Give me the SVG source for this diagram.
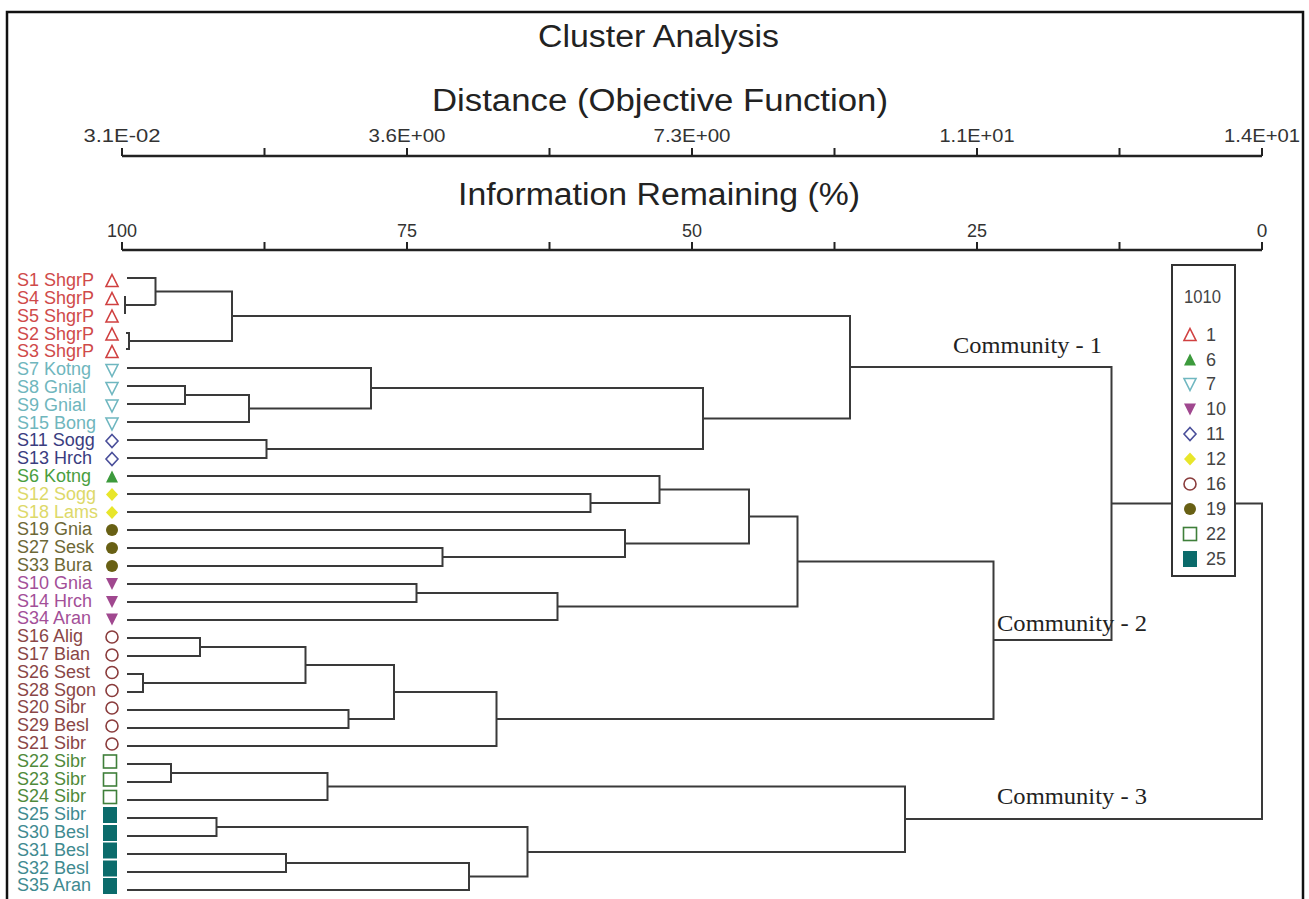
<svg xmlns="http://www.w3.org/2000/svg" xmlns:xlink="http://www.w3.org/1999/xlink" width="1309" height="899" viewBox="0 0 1309 899">
<style>
.frame{fill:#fff;stroke:#111;stroke-width:2.5}
.ttl{font-family:"Liberation Sans",Arial,sans-serif;font-size:31px;fill:#222}
.ax{font-family:"Liberation Sans",Arial,sans-serif;font-size:19px;fill:#333;text-anchor:middle}
.axl{stroke:#222;stroke-width:2.5;fill:none}
.tk{stroke:#222;stroke-width:2;fill:none}
.lbl{font-family:"Liberation Sans",Arial,sans-serif;font-size:18px}
.br{fill:none;stroke:#3a3a3a;stroke-width:2}
.com{font-family:"Liberation Serif","Times New Roman",serif;font-size:24px;fill:#222}
.lg{font-family:"Liberation Sans",Arial,sans-serif;font-size:18px;fill:#444}
.c1{fill:#cf4a4a}.c7{fill:#6fb6bd}.c11{fill:#3a3d80}.c6{fill:#4a9e40}.c12{fill:#ddd96a}.c19{fill:#6d6836}.c10{fill:#a34f98}.c16{fill:#8a4646}.c22{fill:#4f8a3a}.c25{fill:#3f8a90}
.s1{fill:#fff;stroke:#d04040;stroke-width:1.6}
.s6{fill:#3c9a3c}
.s7{fill:#fff;stroke:#6fb7c0;stroke-width:1.6}
.s10{fill:#a0488f}
.s11{fill:#fff;stroke:#4a4f9a;stroke-width:1.6}
.s12{fill:#e8e62a}
.s16{fill:#fff;stroke:#8a3c3c;stroke-width:1.6}
.s19{fill:#686014}
.s22{fill:#fff;stroke:#3f7f3a;stroke-width:1.6}
.s25{fill:#0b6b6b}
</style>
<defs>
<path id="triUp" d="M0,-6.5 L6,5.5 L-6,5.5 Z"/>
<path id="triDn" d="M0,6.5 L6,-5.5 L-6,-5.5 Z"/>
<path id="dia" d="M0,-6.5 L6,0 L0,6.5 L-6,0 Z"/>
<circle id="cir" r="6"/>
<rect id="sqO" x="-6.5" y="-6.5" width="13" height="13"/>
<rect id="sqF" x="-7" y="-8" width="14" height="16"/>
</defs>
<rect class="frame" x="7" y="12" width="1296" height="900"/>

<g id="titles">
<text class="ttl" x="538" y="47" textLength="241" lengthAdjust="spacingAndGlyphs">Cluster Analysis</text>
<text class="ttl" x="432" y="111" textLength="456" lengthAdjust="spacingAndGlyphs">Distance (Objective Function)</text>
<text class="ttl" x="458" y="205" textLength="402" lengthAdjust="spacingAndGlyphs">Information Remaining (%)</text>
</g>

<g id="axis-distance">
<text class="ax" x="122" y="142" textLength="77" lengthAdjust="spacingAndGlyphs">3.1E-02</text>
<text class="ax" x="407" y="142" textLength="77" lengthAdjust="spacingAndGlyphs">3.6E+00</text>
<text class="ax" x="692" y="142" textLength="77" lengthAdjust="spacingAndGlyphs">7.3E+00</text>
<text class="ax" x="977" y="142" textLength="75" lengthAdjust="spacingAndGlyphs">1.1E+01</text>
<text class="ax" x="1262" y="142" textLength="76" lengthAdjust="spacingAndGlyphs">1.4E+01</text>
<path class="axl" d="M122,156 H1262"/>
<path class="tk" d="M122,148V156 M264.5,148V156 M407,148V156 M549.5,148V156 M692,148V156 M834.5,148V156 M977,148V156 M1119.5,148V156 M1262,148V156"/>
</g>
<g id="axis-info">
<text class="ax" x="122" y="237" textLength="30" lengthAdjust="spacingAndGlyphs">100</text>
<text class="ax" x="407" y="237" textLength="20" lengthAdjust="spacingAndGlyphs">75</text>
<text class="ax" x="692" y="237" textLength="20" lengthAdjust="spacingAndGlyphs">50</text>
<text class="ax" x="977" y="237" textLength="20" lengthAdjust="spacingAndGlyphs">25</text>
<text class="ax" x="1262" y="237">0</text>
<path class="axl" d="M122,250 H1262"/>
<path class="tk" d="M122,242V250 M264.5,242V250 M407,242V250 M549.5,242V250 M692,242V250 M834.5,242V250 M977,242V250 M1119.5,242V250 M1262,242V250"/>
</g>

<g id="leaves">
<g id="S1"><text class="lbl c1" x="17" y="286">S1 ShgrP</text><use href="#triUp" class="s1" x="112" y="281"/></g>
<g id="S4"><text class="lbl c1" x="17" y="304">S4 ShgrP</text><use href="#triUp" class="s1" x="112" y="299"/></g>
<g id="S5"><text class="lbl c1" x="17" y="321.5">S5 ShgrP</text><use href="#triUp" class="s1" x="112" y="316.5"/></g>
<g id="S2"><text class="lbl c1" x="17" y="339.5">S2 ShgrP</text><use href="#triUp" class="s1" x="112" y="334.5"/></g>
<g id="S3"><text class="lbl c1" x="17" y="357">S3 ShgrP</text><use href="#triUp" class="s1" x="112" y="352"/></g>
<g id="S7"><text class="lbl c7" x="17" y="375">S7 Kotng</text><use href="#triDn" class="s7" x="112" y="370"/></g>
<g id="S8"><text class="lbl c7" x="17" y="393">S8 Gnial</text><use href="#triDn" class="s7" x="112" y="388"/></g>
<g id="S9"><text class="lbl c7" x="17" y="410.5">S9 Gnial</text><use href="#triDn" class="s7" x="112" y="405.5"/></g>
<g id="S15"><text class="lbl c7" x="17" y="428.5">S15 Bong</text><use href="#triDn" class="s7" x="112" y="423.5"/></g>
<g id="S11"><text class="lbl c11" x="17" y="446">S11 Sogg</text><use href="#dia" class="s11" x="112" y="441"/></g>
<g id="S13"><text class="lbl c11" x="17" y="464">S13 Hrch</text><use href="#dia" class="s11" x="112" y="459"/></g>
<g id="S6"><text class="lbl c6" x="17" y="482">S6 Kotng</text><use href="#triUp" class="s6" x="112" y="477"/></g>
<g id="S12"><text class="lbl c12" x="17" y="499.5">S12 Sogg</text><use href="#dia" class="s12" x="112" y="494.5"/></g>
<g id="S18"><text class="lbl c12" x="17" y="517.5">S18 Lams</text><use href="#dia" class="s12" x="112" y="512.5"/></g>
<g id="S19"><text class="lbl c19" x="17" y="535">S19 Gnia</text><use href="#cir" class="s19" x="112" y="530"/></g>
<g id="S27"><text class="lbl c19" x="17" y="553">S27 Sesk</text><use href="#cir" class="s19" x="112" y="548"/></g>
<g id="S33"><text class="lbl c19" x="17" y="571">S33 Bura</text><use href="#cir" class="s19" x="112" y="566"/></g>
<g id="S10"><text class="lbl c10" x="17" y="588.5">S10 Gnia</text><use href="#triDn" class="s10" x="112" y="583.5"/></g>
<g id="S14"><text class="lbl c10" x="17" y="606.5">S14 Hrch</text><use href="#triDn" class="s10" x="112" y="601.5"/></g>
<g id="S34"><text class="lbl c10" x="17" y="624">S34 Aran</text><use href="#triDn" class="s10" x="112" y="619"/></g>
<g id="S16"><text class="lbl c16" x="17" y="642">S16 Alig</text><use href="#cir" class="s16" x="112" y="637"/></g>
<g id="S17"><text class="lbl c16" x="17" y="660">S17 Bian</text><use href="#cir" class="s16" x="112" y="655"/></g>
<g id="S26"><text class="lbl c16" x="17" y="677.5">S26 Sest</text><use href="#cir" class="s16" x="112" y="672.5"/></g>
<g id="S28"><text class="lbl c16" x="17" y="695.5">S28 Sgon</text><use href="#cir" class="s16" x="112" y="690.5"/></g>
<g id="S20"><text class="lbl c16" x="17" y="713">S20 Sibr</text><use href="#cir" class="s16" x="112" y="708"/></g>
<g id="S29"><text class="lbl c16" x="17" y="731">S29 Besl</text><use href="#cir" class="s16" x="112" y="726"/></g>
<g id="S21"><text class="lbl c16" x="17" y="749">S21 Sibr</text><use href="#cir" class="s16" x="112" y="744"/></g>
<g id="S22"><text class="lbl c22" x="17" y="766.5">S22 Sibr</text><use href="#sqO" class="s22" x="110" y="761.5"/></g>
<g id="S23"><text class="lbl c22" x="17" y="784.5">S23 Sibr</text><use href="#sqO" class="s22" x="110" y="779.5"/></g>
<g id="S24"><text class="lbl c22" x="17" y="802">S24 Sibr</text><use href="#sqO" class="s22" x="110" y="797"/></g>
<g id="S25"><text class="lbl c25" x="17" y="820">S25 Sibr</text><use href="#sqF" class="s25" x="110" y="815"/></g>
<g id="S30"><text class="lbl c25" x="17" y="838">S30 Besl</text><use href="#sqF" class="s25" x="110" y="833"/></g>
<g id="S31"><text class="lbl c25" x="17" y="855.5">S31 Besl</text><use href="#sqF" class="s25" x="110" y="850.5"/></g>
<g id="S32"><text class="lbl c25" x="17" y="873.5">S32 Besl</text><use href="#sqF" class="s25" x="110" y="868.5"/></g>
<g id="S35"><text class="lbl c25" x="17" y="891">S35 Aran</text><use href="#sqF" class="s25" x="110" y="886"/></g>
</g>

<g id="connectors" class="br">
<path d="M125,296 V314 M125,305 H155.5"/>
<path d="M127,278 H155.5 V305"/>
<path d="M126,333 H129 V349 H126"/>
<path d="M155.5,291.5 H232 V341 H129"/>
<path d="M127,386 H185 V404 H127"/>
<path d="M185,395 H249 V422 H127"/>
<path d="M127,368 H371 V408.5 H249"/>
<path d="M127,440 H266.5 V458 H127"/>
<path d="M371,388 H703 V449 H266.5"/>
<path d="M232,316 H850 V418.5 H703"/>
<path d="M127,494 H590.5 V512 H127"/>
<path d="M127,476 H659.5 V503 H590.5"/>
<path d="M127,548 H442.5 V566 H127"/>
<path d="M127,530 H625 V557 H442.5"/>
<path d="M659.5,489.5 H749 V543.5 H625"/>
<path d="M127,584 H416.5 V602 H127"/>
<path d="M416.5,593 H557.5 V620 H127"/>
<path d="M749,516.5 H797.5 V606.5 H557.5"/>
<path d="M127,638 H200 V656 H127"/>
<path d="M127,674 H143 V692 H127"/>
<path d="M200,647 H305.5 V683 H143"/>
<path d="M127,710 H348.5 V728 H127"/>
<path d="M305.5,665 H394 V719 H348.5"/>
<path d="M394,692 H496.5 V746 H127"/>
<path d="M797.5,561.5 H993.5 V719 H496.5"/>
<path d="M850,367 H1111.5 V640 H993.5"/>
<path d="M127,764 H171 V782 H127"/>
<path d="M171,773 H327.5 V800 H127"/>
<path d="M127,818 H216.5 V836 H127"/>
<path d="M127,854 H286 V872 H127"/>
<path d="M286,863 H469 V890 H127"/>
<path d="M216.5,827 H527.5 V876.5 H469"/>
<path d="M327.5,786.5 H905 V852 H527.5"/>
<path d="M1111.5,503.5 H1262 V819 H905"/>
</g>

<g id="community-labels">
<text class="com" x="953" y="353" textLength="149" lengthAdjust="spacingAndGlyphs">Community - 1</text>
<text class="com" x="997" y="631" textLength="150" lengthAdjust="spacingAndGlyphs">Community - 2</text>
<text class="com" x="997" y="804" textLength="150" lengthAdjust="spacingAndGlyphs">Community - 3</text>
</g>

<g id="legend">
<rect x="1172" y="265" width="63" height="311" fill="#fff" stroke="#333" stroke-width="2"/>
<text class="lg" x="1184" y="303" font-size="17" textLength="37" lengthAdjust="spacingAndGlyphs">1010</text>
<use href="#triUp" class="s1" x="1190" y="335"/><text class="lg" x="1206" y="341">1</text>
<use href="#triUp" class="s6" x="1190" y="360"/><text class="lg" x="1206" y="366">6</text>
<use href="#triDn" class="s7" x="1190" y="384"/><text class="lg" x="1206" y="390">7</text>
<use href="#triDn" class="s10" x="1190" y="409"/><text class="lg" x="1206" y="415">10</text>
<use href="#dia" class="s11" x="1190" y="434"/><text class="lg" x="1206" y="440">11</text>
<use href="#dia" class="s12" x="1190" y="459"/><text class="lg" x="1206" y="465">12</text>
<use href="#cir" class="s16" x="1190" y="484"/><text class="lg" x="1206" y="490">16</text>
<use href="#cir" class="s19" x="1190" y="509"/><text class="lg" x="1206" y="515">19</text>
<use href="#sqO" class="s22" x="1190" y="534"/><text class="lg" x="1206" y="540">22</text>
<use href="#sqF" class="s25" x="1190" y="559"/><text class="lg" x="1206" y="565">25</text>
</g>
</svg>
